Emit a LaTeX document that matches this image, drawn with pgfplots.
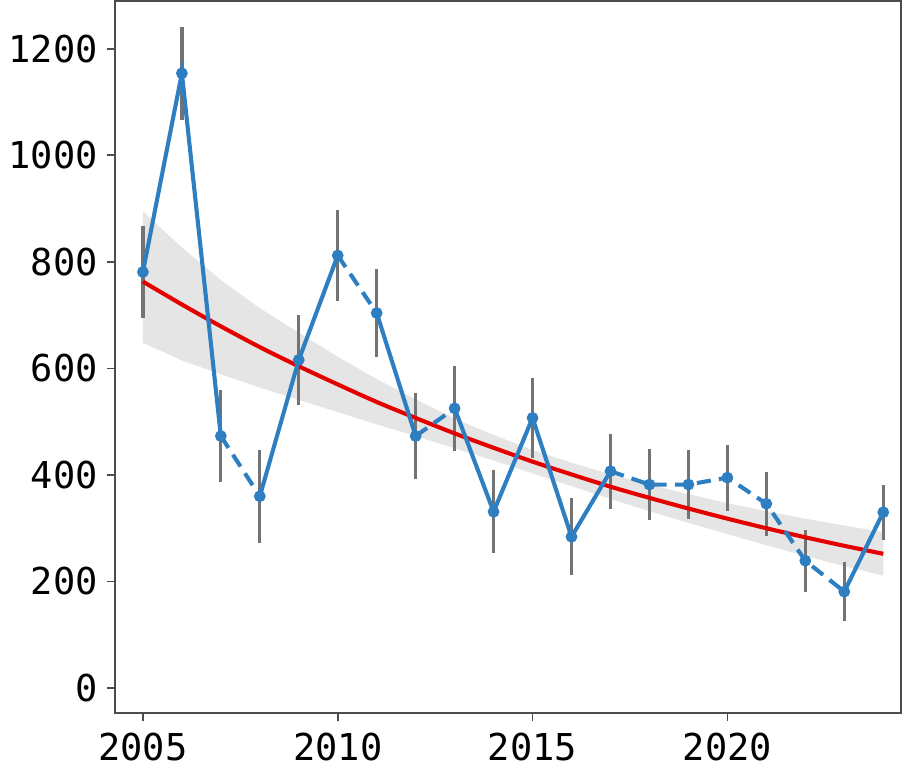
\documentclass[border=0pt]{standalone}
\usepackage{pgfplots}
\pgfplotsset{compat=1.18}
\usepackage{fontspec}
\setmainfont{DejaVu Sans Mono}
\usepgfplotslibrary{fillbetween}
\definecolor{sblue}{HTML}{2E7EC2}
\begin{document}
\begin{tikzpicture}
\begin{axis}[
  width=308pt, height=279pt, scale only axis,
  xmin=2004.28, xmax=2024.46, ymin=-47, ymax=1290,
  xtick={2005,2010,2015,2020}, ytick={0,200,...,1200},
  /pgf/number format/assume math mode=true,
  /pgf/number format/1000 sep={},
  ticklabel style={font=\fontsize{14.5}{16}\selectfont},
  xticklabel style={yshift=-1pt},
  tick align=outside, tick style={line width=0.65pt, color=black!70}, major tick length=3.2pt,
  axis line style={line width=0.65pt, color=black!70},
  xtick pos=bottom, ytick pos=left,
]
\addplot[name path=up, draw=none] coordinates {(2005,895)(2006,827)(2007,766)(2008,713)(2009,667)(2010,622)(2011,580)(2012,542)(2013,506)(2014,475)(2015,447)(2016,423)(2017,401)(2018,382)(2019,364)(2020,347)(2021,332)(2022,318)(2023,305)(2024,293)};
\addplot[name path=lo, draw=none] coordinates {(2005,648)(2006,615)(2007,589)(2008,564)(2009,541)(2010,518)(2011,495)(2012,473)(2013,450)(2014,427)(2015,403)(2016,379)(2017,355)(2018,332)(2019,310)(2020,289)(2021,268)(2022,248)(2023,229)(2024,211)};
\addplot[black!10, draw=none] fill between[of=up and lo];
\addplot[draw=none, mark=none, error bars/.cd, y dir=both, y explicit, error mark=none,
  error bar style={line width=1.3pt, color=black!55}] table[y error=e] {
x y e
2005 781 87
2006 1154 87
2007 473 87
2008 360 87
2009 616 85
2010 812 85
2011 704 83
2012 473 80
2013 525 80
2014 331 78
2015 507 75
2016 284 72
2017 407 70
2018 382 66
2019 382 64
2020 395 62
2021 346 60
2022 239 58
2023 181 55
2024 330 52
};
\addplot[red!90!black, line width=1.6pt, smooth] coordinates {(2005,763)(2006,720)(2007,679)(2008,640)(2009,604)(2010,570)(2011,537)(2012,507)(2013,478)(2014,451)(2015,425)(2016,401)(2017,378)(2018,357)(2019,337)(2020,318)(2021,300)(2022,283)(2023,267)(2024,252)};
\addplot[sblue, line width=1.6pt, unbounded coords=jump] coordinates {(2005,781)(2006,1154)(2007,473) (2007,nan) (2008,360)(2009,616)(2010,812) (2010,nan) (2011,704)(2012,473) (2012,nan) (2013,525)(2014,331)(2015,507)(2016,284)(2017,407) (2017,nan) (2023,181)(2024,330)};
\addplot[sblue, line width=1.6pt, dash pattern=on 5.5pt off 3.2pt, unbounded coords=jump] coordinates {(2007,473)(2008,360) (2008,nan) (2010,812)(2011,704) (2011,nan) (2012,473)(2013,525) (2013,nan) (2017,407)(2018,382)(2019,382)(2020,395)(2021,346)(2022,239)(2023,181)};
\addplot[only marks, mark=*, mark size=2.1pt, sblue] coordinates {(2005,781)(2006,1154)(2007,473)(2008,360)(2009,616)(2010,812)(2011,704)(2012,473)(2013,525)(2014,331)(2015,507)(2016,284)(2017,407)(2018,382)(2019,382)(2020,395)(2021,346)(2022,239)(2023,181)(2024,330)};
\end{axis}
\end{tikzpicture}
\end{document}
